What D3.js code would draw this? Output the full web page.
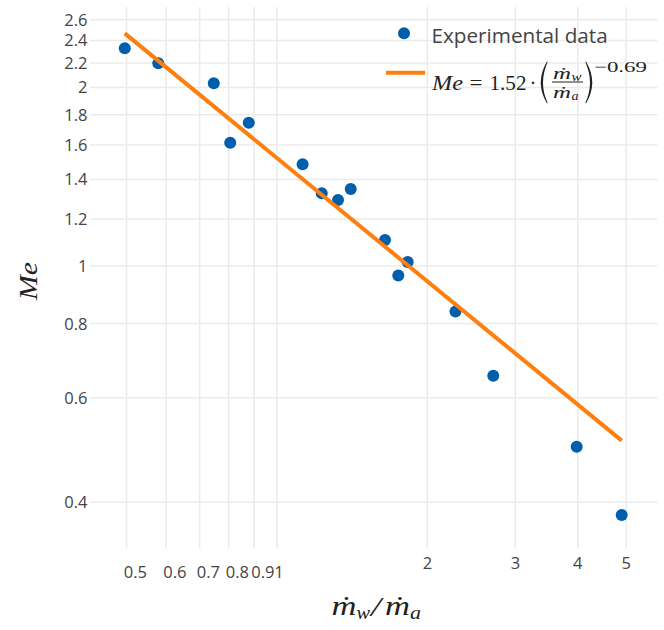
<!DOCTYPE html>
<html>
<head>
<meta charset="utf-8">
<script src="https://cdn.jsdelivr.net/npm/d3@7"></script>
<style>
  html, body { margin: 0; padding: 0; background: #fff; }
  svg { display: block; }
</style>
</head>
<body>
<svg id="chart" width="664" height="630"></svg>
<script>
// Water / air mass-flow ratio of each run
const flowRatio = [0.497, 0.580, 0.749, 0.808, 0.880, 1.128, 1.232, 1.328, 1.408, 1.649, 1.753, 1.831, 2.282, 2.716, 3.989, 4.909];
// Measured Me of each run
const meValues  = [2.324, 2.192, 2.029, 1.611, 1.741, 1.482, 1.324, 1.290, 1.346, 1.104, 0.962, 1.014, 0.837, 0.652, 0.495, 0.380];
// Power-law fit: Me = fitCoef * ratio^fitExp
const fitCoef = 1.52;
const fitExp = -0.69;
// Axis ticks
const xTickValues = [0.5, 0.6, 0.7, 0.8, 0.9, 1, 2, 3, 4, 5];
const yTickValues = [0.4, 0.6, 0.8, 1, 1.2, 1.4, 1.6, 1.8, 2, 2.2, 2.4, 2.6];
// Axis ranges (log axes)
const xDomain = [0.4234, 5.784];
const yDomain = [0.3336, 2.7278];

const W = 664, H = 630;
const plot = { left: 90, right: 657.3, top: 7, bottom: 548.5 };
const tickFont = "'Open Sans', 'Noto Sans', sans-serif";
const mathFont = "'Liberation Serif', 'DejaVu Serif', serif";
const blue = "#005fad";
const orange = "#ff7f0e";
const gridColor = "#ebebeb";
const textColor = "#444";

const svg = d3.select("#chart");
svg.append("rect").attr("width", W).attr("height", H).attr("fill", "#fff");

const x = d3.scaleLog().domain(xDomain).range([plot.left, plot.right]);
const y = d3.scaleLog().domain(yDomain).range([plot.bottom, plot.top]);

// Vertical grid + x tick labels (sub-decade labels sit one row lower)
const gx = svg.append("g")
  .attr("transform", `translate(0,${plot.bottom})`)
  .call(d3.axisBottom(x)
    .tickValues(xTickValues)
    .tickFormat(d => String(d))
    .tickSize(-(plot.bottom - plot.top))
    .tickPadding(0));
gx.select(".domain").remove();
gx.selectAll(".tick line").attr("stroke", gridColor).attr("stroke-width", 1.5);
gx.selectAll(".tick text")
  .attr("font-family", tickFont)
  .attr("font-size", 16.5)
  .attr("fill", textColor)
  .attr("dy", null)
  .attr("text-anchor", d => d <= 1 ? "start" : "middle")
  .attr("y", d => d <= 1 ? 29.5 : 20.8)
  .attr("x", d => d <= 1 ? -2.8 : 0);

// Horizontal grid + y tick labels
const gy = svg.append("g")
  .attr("transform", `translate(${plot.left},0)`)
  .call(d3.axisLeft(y)
    .tickValues(yTickValues)
    .tickFormat(d => String(d))
    .tickSize(-(plot.right - plot.left))
    .tickPadding(2.5));
gy.select(".domain").remove();
gy.selectAll(".tick line").attr("stroke", gridColor).attr("stroke-width", 1.5);
gy.selectAll(".tick text")
  .attr("font-family", tickFont)
  .attr("font-size", 16.5)
  .attr("fill", textColor)
  .attr("dy", "0.36em");

// Experimental points
svg.append("g")
  .selectAll("circle")
  .data(flowRatio.map((r, i) => ({ r, me: meValues[i] })))
  .join("circle")
  .attr("cx", d => x(d.r))
  .attr("cy", d => y(d.me))
  .attr("r", 6)
  .attr("fill", blue);

// Fitted power law (straight on log-log axes)
const fitRange = d3.extent(flowRatio);
const fitPts = fitRange.map(r => ({ r, me: fitCoef * Math.pow(r, fitExp) }));
svg.append("path")
  .datum(fitPts)
  .attr("fill", "none")
  .attr("stroke", orange)
  .attr("stroke-width", 4)
  .attr("d", d3.line().x(d => x(d.r)).y(d => y(d.me)));

// Helper for a text piece fitted to a given width
function piece(g, str, px, py, size, opts = {}) {
  const t = g.append("text")
    .attr("x", px).attr("y", py)
    .attr("font-family", opts.family || mathFont)
    .attr("font-size", size)
    .attr("fill", opts.fill || "#222")
    .text(str);
  if (opts.italic) t.attr("font-style", "italic");
  if (opts.len) t.attr("textLength", opts.len).attr("lengthAdjust", "spacingAndGlyphs");
  if (opts.anchor) t.attr("text-anchor", opts.anchor);
  return t;
}

// Legend
const lg = svg.append("g");
lg.append("circle").attr("cx", 404).attr("cy", 33.3).attr("r", 6).attr("fill", blue);
piece(lg, "Experimental data", 431.5, 42.7, 20.7, { family: tickFont, fill: textColor });
lg.append("line")
  .attr("x1", 386).attr("x2", 425).attr("y1", 72.7).attr("y2", 72.7)
  .attr("stroke", orange).attr("stroke-width", 4);

// Me = 1.52 · (ṁw / ṁa)^−0.69
piece(lg, "Me", 432, 90, 21, { italic: true, len: 31 });
piece(lg, "=", 469.5, 90, 21, { len: 13 });
piece(lg, "1.52", 489.5, 90, 21, { len: 37 });
piece(lg, "·", 529.5, 90, 21);
lg.append("path")
  .attr("d", "M547,61.5 Q534.5,82.5 547,103.5 L547.6,102.8 Q538.4,82.5 547.6,62.2 Z")
  .attr("fill", "#222");
piece(lg, "ṁ", 553, 78.5, 16, { italic: true, len: 18 });
piece(lg, "w", 571.5, 80.5, 11.5, { italic: true, len: 10 });
lg.append("line")
  .attr("x1", 552).attr("x2", 583).attr("y1", 82).attr("y2", 82)
  .attr("stroke", "#222").attr("stroke-width", 1);
piece(lg, "ṁ", 553, 97.5, 16, { italic: true, len: 18 });
piece(lg, "a", 571.5, 100, 11.5, { italic: true, len: 7 });
lg.append("path")
  .attr("d", "M586,61.5 Q598.5,82.5 586,103.5 L585.4,102.8 Q594.6,82.5 585.4,62.2 Z")
  .attr("fill", "#222");
piece(lg, "−0.69", 594, 72, 15, { len: 53 });

// x-axis title  ṁw / ṁa
const xt = svg.append("g");
piece(xt, "ṁ", 331.5, 615, 27, { italic: true, len: 25 });
piece(xt, "w", 356.5, 619, 18, { italic: true, len: 13.5 });
piece(xt, "/", 371, 616, 27, { italic: true, len: 10 });
piece(xt, "ṁ", 385, 615, 27, { italic: true, len: 25 });
piece(xt, "a", 410, 619, 18, { italic: true, len: 11 });

// y-axis title  Me
svg.append("text")
  .attr("transform", "translate(36.5,281) rotate(-90)")
  .attr("text-anchor", "middle")
  .attr("font-family", mathFont)
  .attr("font-style", "italic")
  .attr("font-size", 25)
  .attr("fill", "#222")
  .attr("textLength", 38)
  .attr("lengthAdjust", "spacingAndGlyphs")
  .text("Me");
</script>
</body>
</html>
